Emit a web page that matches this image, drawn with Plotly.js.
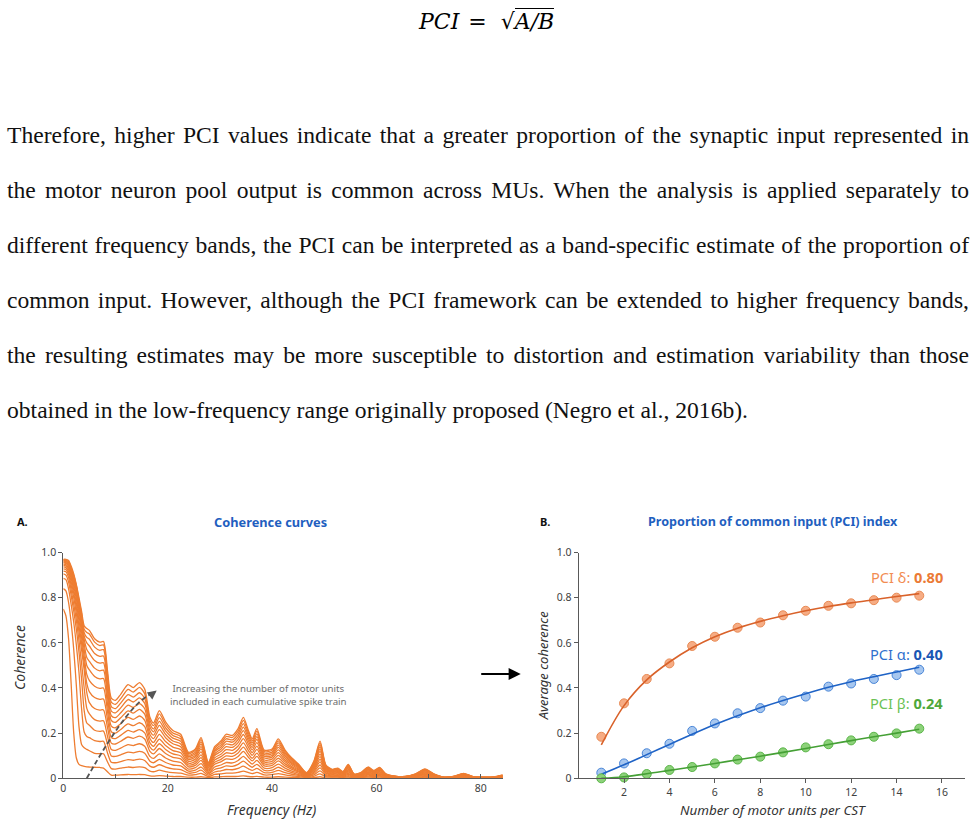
<!DOCTYPE html>
<html>
<head>
<meta charset="utf-8">
<script src="https://cdn.plot.ly/plotly-3.0.1.min.js"></script>
<style>
  html, body { margin: 0; padding: 0; background: #ffffff; }
  #page { position: relative; width: 979px; height: 824px; overflow: hidden; background: #fff; }
  #formula { position: absolute; left: 419px; top: 2px; height: 40px; line-height: 40px; font-size: 22px;
             font-family: 'DejaVu Serif', 'Liberation Serif', serif; white-space: nowrap; color: #000; }
  #para { position: absolute; left: 7px; top: 108px; width: 962px; font-family: 'Liberation Serif', 'Times New Roman', serif;
          font-size: 23.6px; line-height: 55px; color: #111; }
  #para .ln { text-align: justify; text-align-last: justify; }
  #para .last { text-align: left; text-align-last: left; }
  #chart { position: absolute; left: 0; top: 480px; width: 979px; height: 344px; }
</style>
</head>
<body>
<div id="page">
  <div id="formula"><i>PCI</i><span style="margin:0 14px 0 9px;">=</span><span>√</span><span style="border-top:1.4px solid #000;font-style:italic;padding-top:0px;">A/B</span></div>
  <div id="para">
    <div class="ln">Therefore, higher PCI values indicate that a greater proportion of the synaptic input represented in</div>
    <div class="ln">the motor neuron pool output is common across MUs. When the analysis is applied separately to</div>
    <div class="ln">different frequency bands, the PCI can be interpreted as a band-specific estimate of the proportion of</div>
    <div class="ln">common input. However, although the PCI framework can be extended to higher frequency bands,</div>
    <div class="ln">the resulting estimates may be more susceptible to distortion and estimation variability than those</div>
    <div class="ln last">obtained in the low-frequency range originally proposed (Negro et al., 2016b).</div>
  </div>
  <div id="chart"></div>
</div>
<script>
// ---------- Panel A: coherence curves (frequency grid + one curve per CST size) ----------
const freqHz = [0,0.5,1,1.5,2,2.5,3,3.5,4,4.5,5,6,7,7.7,8.5,9.2,10,11,12.4,13.4,14.6,15.6,16.6,17.3,18.4,19.6,21,22.5,24,25.3,26.4,27.8,29,30.2,31.2,32.4,33.5,34.5,35.5,36.2,37.1,38.5,40,41.2,42.5,43.8,45,46.6,48,49.2,50.3,51.5,52.6,53.6,54.6,55.7,57,58.4,59.5,60.6,61.8,63.5,65.5,67.5,69.3,71,73,75,76.7,78.5,80.5,82.5,84.2];

const coh1 = [0.75,0.72,0.62,0.42,0.20,0.09,0.062,0.056,0.053,0.051,0.05,0.049,0.048,0.045,0.028,
0.014,0.014,0.015,0.017,0.016,0.017,0.016,0.011,0.010,0.012,0.010,0.008,0.008,0.005,0.005,0.007,0.003,0.006,0.007,0.008,0.008,0.009,0.011,0.008,0.007,0.009,0.005,0.005,0.007,0.005,0.004,0.003,0.001,0.003,0.007,0.002,0.002,0.002,0.001,0.002,0.001,0.001,0.002,0.001,0.002,0.001,0,0,0.001,0.002,0.001,0,0,0.001,0,0,0,0.001];
const coh2 = [0.84,0.83,0.78,0.69,0.57,0.41,0.23,0.15,0.135,0.128,0.122,0.111,0.109,0.109,0.071,
0.043,0.041,0.045,0.050,0.048,0.051,0.047,0.032,0.029,0.036,0.030,0.025,0.023,0.014,0.016,0.022,0.008,0.017,0.020,0.023,0.023,0.026,0.032,0.025,0.021,0.026,0.015,0.016,0.021,0.015,0.011,0.008,0.003,0.009,0.020,0.007,0.005,0.005,0.004,0.007,0.002,0.003,0.006,0.004,0.006,0.002,0.001,0.001,0.002,0.005,0.002,0.001,0.001,0.003,0.001,0.001,0.001,0.002];
const coh3 = [0.885,0.88,0.84,0.77,0.69,0.59,0.47,0.31,0.205,0.185,0.18,0.167,0.163,0.164,0.110,
0.071,0.069,0.074,0.083,0.080,0.085,0.079,0.054,0.049,0.060,0.050,0.042,0.039,0.023,0.026,0.036,0.014,0.028,0.033,0.039,0.038,0.044,0.054,0.042,0.035,0.044,0.025,0.026,0.035,0.025,0.018,0.013,0.005,0.015,0.033,0.012,0.008,0.009,0.006,0.012,0.004,0.005,0.010,0.007,0.010,0.004,0.002,0.002,0.004,0.008,0.004,0.001,0.002,0.004,0.002,0.001,0.001,0.003];
const coh4 = [0.905,0.90,0.87,0.81,0.74,0.66,0.56,0.44,0.30,0.245,0.235,0.213,0.208,0.209,0.147,
0.099,0.097,0.104,0.116,0.113,0.119,0.111,0.076,0.069,0.084,0.070,0.059,0.055,0.032,0.036,0.050,0.020,0.039,0.046,0.055,0.053,0.062,0.076,0.059,0.049,0.062,0.035,0.036,0.049,0.035,0.025,0.018,0.007,0.021,0.046,0.017,0.011,0.013,0.008,0.017,0.006,0.007,0.014,0.010,0.013,0.006,0.003,0.002,0.006,0.012,0.006,0.001,0.003,0.006,0.002,0.001,0.002,0.004];
const coh5 = [0.918,0.915,0.89,0.835,0.77,0.70,0.61,0.51,0.40,0.31,0.285,0.260,0.253,0.255,0.183,
0.128,0.124,0.134,0.149,0.145,0.153,0.142,0.097,0.088,0.108,0.090,0.076,0.070,0.041,0.047,0.065,0.025,0.050,0.059,0.070,0.068,0.079,0.097,0.076,0.063,0.079,0.045,0.047,0.063,0.045,0.032,0.023,0.009,0.027,0.059,0.022,0.014,0.016,0.011,0.022,0.007,0.009,0.018,0.013,0.017,0.007,0.004,0.003,0.007,0.015,0.007,0.002,0.004,0.008,0.003,0.002,0.002,0.005];
const coh6 = [0.928,0.925,0.905,0.855,0.80,0.73,0.65,0.57,0.48,0.38,0.335,0.309,0.302,0.303,0.221,
0.156,0.152,0.164,0.183,0.177,0.187,0.174,0.119,0.108,0.132,0.110,0.093,0.086,0.051,0.057,0.079,0.031,0.062,0.073,0.086,0.084,0.097,0.119,0.092,0.077,0.097,0.055,0.057,0.077,0.055,0.040,0.029,0.011,0.033,0.073,0.026,0.018,0.020,0.013,0.027,0.009,0.011,0.022,0.015,0.021,0.009,0.004,0.004,0.009,0.018,0.009,0.002,0.004,0.010,0.004,0.002,0.003,0.007];
const coh7 = [0.936,0.933,0.915,0.87,0.82,0.755,0.675,0.60,0.51,0.42,0.383,0.358,0.350,0.351,0.256,
0.181,0.176,0.190,0.212,0.205,0.216,0.201,0.138,0.125,0.153,0.128,0.108,0.099,0.059,0.066,0.092,0.036,0.071,0.084,0.099,0.097,0.112,0.138,0.107,0.089,0.112,0.064,0.066,0.089,0.064,0.046,0.033,0.013,0.038,0.084,0.031,0.020,0.023,0.015,0.032,0.010,0.013,0.026,0.018,0.024,0.010,0.005,0.004,0.010,0.021,0.010,0.003,0.005,0.011,0.004,0.003,0.003,0.008];
const coh8 = [0.943,0.94,0.925,0.885,0.835,0.775,0.70,0.625,0.54,0.46,0.433,0.408,0.398,0.400,0.291,
0.206,0.200,0.216,0.241,0.233,0.246,0.229,0.157,0.142,0.174,0.145,0.123,0.113,0.067,0.075,0.104,0.041,0.081,0.096,0.113,0.110,0.128,0.157,0.122,0.102,0.128,0.073,0.075,0.102,0.073,0.052,0.038,0.015,0.044,0.096,0.035,0.023,0.026,0.017,0.036,0.012,0.015,0.029,0.020,0.028,0.012,0.006,0.005,0.012,0.024,0.012,0.003,0.006,0.013,0.005,0.003,0.003,0.009];
const coh9 = [0.949,0.946,0.932,0.895,0.85,0.795,0.72,0.65,0.57,0.50,0.48,0.451,0.440,0.442,0.324,
0.231,0.224,0.242,0.270,0.261,0.276,0.257,0.176,0.159,0.195,0.163,0.138,0.127,0.075,0.085,0.117,0.046,0.091,0.107,0.127,0.124,0.143,0.176,0.137,0.114,0.143,0.081,0.085,0.114,0.081,0.059,0.042,0.016,0.049,0.107,0.039,0.026,0.029,0.020,0.040,0.013,0.016,0.033,0.023,0.031,0.013,0.007,0.005,0.013,0.027,0.013,0.003,0.007,0.014,0.005,0.003,0.004,0.010];
const coh10 = [0.954,0.952,0.94,0.905,0.862,0.81,0.74,0.67,0.595,0.535,0.518,0.488,0.476,0.479,0.355,
0.256,0.248,0.268,0.299,0.289,0.305,0.284,0.194,0.176,0.216,0.180,0.153,0.140,0.083,0.094,0.130,0.050,0.101,0.119,0.140,0.137,0.158,0.194,0.151,0.126,0.158,0.090,0.094,0.126,0.090,0.065,0.047,0.018,0.054,0.119,0.043,0.029,0.032,0.022,0.045,0.014,0.018,0.036,0.025,0.035,0.014,0.007,0.006,0.014,0.030,0.014,0.004,0.007,0.016,0.006,0.004,0.004,0.011];
const coh11 = [0.958,0.956,0.945,0.913,0.872,0.825,0.755,0.685,0.615,0.57,0.553,0.522,0.510,0.512,0.382,
0.277,0.269,0.290,0.324,0.314,0.331,0.308,0.211,0.191,0.234,0.195,0.165,0.152,0.090,0.101,0.140,0.055,0.109,0.129,0.152,0.148,0.172,0.211,0.164,0.137,0.172,0.098,0.101,0.137,0.098,0.070,0.051,0.020,0.059,0.129,0.047,0.031,0.035,0.023,0.048,0.016,0.020,0.039,0.027,0.037,0.016,0.008,0.006,0.016,0.033,0.016,0.004,0.008,0.017,0.006,0.004,0.005,0.012];
const coh12 = [0.962,0.96,0.95,0.92,0.882,0.838,0.77,0.70,0.63,0.60,0.586,0.553,0.540,0.542,0.408,
0.298,0.290,0.312,0.349,0.338,0.356,0.332,0.227,0.206,0.252,0.210,0.178,0.164,0.097,0.109,0.151,0.059,0.118,0.139,0.164,0.160,0.185,0.227,0.176,0.147,0.185,0.105,0.109,0.147,0.105,0.076,0.055,0.021,0.063,0.139,0.050,0.034,0.038,0.025,0.052,0.017,0.021,0.042,0.029,0.040,0.017,0.008,0.007,0.017,0.035,0.017,0.004,0.008,0.018,0.007,0.004,0.005,0.013];
const coh13 = [0.965,0.963,0.955,0.927,0.89,0.848,0.78,0.715,0.645,0.624,0.616,0.581,0.567,0.570,0.431,
0.318,0.309,0.333,0.371,0.360,0.379,0.354,0.242,0.219,0.269,0.224,0.190,0.175,0.103,0.116,0.161,0.063,0.125,0.148,0.175,0.170,0.197,0.242,0.188,0.157,0.197,0.112,0.116,0.157,0.112,0.081,0.058,0.022,0.067,0.148,0.054,0.036,0.040,0.027,0.055,0.018,0.022,0.045,0.031,0.043,0.018,0.009,0.007,0.018,0.038,0.018,0.004,0.009,0.020,0.007,0.004,0.005,0.013];
const coh14 = [0.968,0.966,0.96,0.933,0.898,0.853,0.79,0.73,0.66,0.646,0.639,0.603,0.588,0.591,0.452,
0.337,0.328,0.353,0.394,0.382,0.403,0.375,0.257,0.233,0.285,0.238,0.201,0.185,0.109,0.124,0.171,0.067,0.133,0.157,0.185,0.181,0.209,0.257,0.200,0.166,0.209,0.119,0.124,0.166,0.119,0.086,0.062,0.024,0.071,0.157,0.057,0.038,0.043,0.029,0.059,0.019,0.024,0.048,0.033,0.046,0.019,0.010,0.008,0.019,0.040,0.019,0.005,0.010,0.021,0.008,0.005,0.006,0.014];
const coh15 = [0.970,0.970,0.965,0.940,0.905,0.858,0.80,0.74,0.675,0.663,0.655,0.618,0.603,0.606,0.470,
0.355,0.345,0.372,0.415,0.402,0.424,0.395,0.270,0.245,0.300,0.250,0.212,0.195,0.115,0.130,0.180,0.070,0.140,0.165,0.195,0.190,0.220,0.270,0.210,0.175,0.220,0.125,0.130,0.175,0.125,0.090,0.065,0.025,0.075,0.165,0.060,0.040,0.045,0.030,0.062,0.020,0.025,0.050,0.035,0.048,0.020,0.010,0.008,0.020,0.042,0.020,0.005,0.010,0.022,0.008,0.005,0.006,0.015];

const coherenceCurves = [coh1,coh2,coh3,coh4,coh5,coh6,coh7,coh8,coh9,coh10,coh11,coh12,coh13,coh14,coh15];

const freqTickVals = [0,10,20,30,40,50,60,70,80];
const freqTickText = ['0','','20','','40','','60','','80'];
const cohTickVals = [0,0.2,0.4,0.6,0.8,1.0];
const cohTickText = ['0','0.2','0.4','0.6','0.8','1.0'];

// ---------- Panel B: average coherence vs number of MUs ----------
const nMU = [1,2,3,4,5,6,7,8,9,10,11,12,13,14,15];
const deltaAvg = [0.184,0.332,0.440,0.509,0.586,0.627,0.667,0.690,0.722,0.742,0.764,0.775,0.789,0.800,0.809];
const alphaAvg = [0.025,0.066,0.111,0.153,0.210,0.243,0.288,0.311,0.344,0.362,0.406,0.420,0.440,0.457,0.481];
const betaAvg  = [0.000,0.004,0.019,0.037,0.050,0.066,0.083,0.096,0.115,0.137,0.151,0.168,0.184,0.199,0.220];
const deltaFit = [0.148,0.322,0.436,0.515,0.578,0.627,0.665,0.695,0.720,0.742,0.761,0.777,0.791,0.805,0.818];
const alphaFit = [0.018,0.060,0.105,0.150,0.195,0.238,0.277,0.313,0.345,0.375,0.403,0.428,0.450,0.471,0.492];
const betaFit  = [0.000,0.007,0.020,0.035,0.050,0.066,0.082,0.098,0.115,0.132,0.150,0.167,0.184,0.200,0.217];
const muTickVals = [2,4,6,8,10,12,14,16];

const FONT = "'Noto Sans', 'Open Sans', Roboto, sans-serif";

const traces = [];
coherenceCurves.forEach(function (c) {
  traces.push({
    x: freqHz, y: c, type: 'scatter', mode: 'lines', xaxis: 'x', yaxis: 'y',
    line: { color: '#EE7D31', width: 1.3, shape: 'spline', smoothing: 0.7 },
    hoverinfo: 'skip', showlegend: false
  });
});

const bandSets = [
  { pts: deltaAvg, fit: deltaFit, fill: '#F6AC84', edge: '#E98B55', line: '#D9622A' },
  { pts: alphaAvg, fit: alphaFit, fill: '#A7C7EF', edge: '#4A86D8', line: '#1F63C6' },
  { pts: betaAvg,  fit: betaFit,  fill: '#8DD27A', edge: '#5AB548', line: '#45A035' }
];
bandSets.forEach(function (b) {
  traces.push({
    x: nMU, y: b.pts, type: 'scatter', mode: 'markers', xaxis: 'x2', yaxis: 'y2',
    marker: { size: 9, color: b.fill, line: { color: b.edge, width: 1 } },
    hoverinfo: 'skip', showlegend: false, cliponaxis: false
  });
  traces.push({
    x: nMU, y: b.fit, type: 'scatter', mode: 'lines', xaxis: 'x2', yaxis: 'y2',
    line: { color: b.line, width: 1.6, shape: 'spline', smoothing: 1 },
    hoverinfo: 'skip', showlegend: false, cliponaxis: false
  });
});

const axisCommon = {
  showline: true, linecolor: '#595959', linewidth: 1, showgrid: false, zeroline: false,
  tickcolor: '#595959', tickwidth: 1, tickfont: { family: FONT, size: 10.5, color: '#404040' }, fixedrange: true
};

const yDom = [0.1328, 0.7892];

const layout = {
  width: 979, height: 344,
  margin: { l: 0, r: 0, t: 0, b: 0 },
  paper_bgcolor: '#ffffff', plot_bgcolor: 'rgba(0,0,0,0)',
  font: { family: FONT, color: '#404040' },
  showlegend: false,
  xaxis: Object.assign({}, axisCommon, {
    domain: [0.06466, 0.51348], range: [0, 84.2], anchor: 'y',
    ticks: 'inside', ticklen: 4, tickvals: freqTickVals, ticktext: freqTickText
  }),
  yaxis: Object.assign({}, axisCommon, {
    domain: yDom, range: [0, 1], anchor: 'x',
    ticks: 'outside', ticklen: 4, tickvals: cohTickVals, ticktext: cohTickText
  }),
  xaxis2: Object.assign({}, axisCommon, {
    domain: [0.59101, 0.98539], range: [0, 17], anchor: 'y2',
    ticks: 'outside', ticklen: 4, tickvals: muTickVals
  }),
  yaxis2: Object.assign({}, axisCommon, {
    domain: yDom, range: [0, 1], anchor: 'x2',
    ticks: 'outside', ticklen: 4, tickvals: cohTickVals, ticktext: cohTickText
  }),
  shapes: [
    { type: 'path', xref: 'x', yref: 'y', path: 'M4.5,0 Q13,0.35 17.2,0.376',
      line: { color: '#555555', width: 1.8, dash: '5px,3px' }, layer: 'above' }
  ],
  annotations: [
    { xref: 'x', yref: 'y', x: 17.9, y: 0.389, ax: 17.0, ay: 0.373, axref: 'x', ayref: 'y',
      text: '', showarrow: true, arrowhead: 2, arrowsize: 1, arrowwidth: 1.8, arrowcolor: '#555555' },
    { xref: 'x', yref: 'y', x: 37.4, y: 0.369, xanchor: 'center', yanchor: 'middle', showarrow: false,
      text: 'Increasing the number of motor units<br>included in each cumulative spike train',
      font: { family: FONT, size: 9.7, color: '#6b6b6b' }, align: 'center' },
    { xref: 'paper', yref: 'paper', x: 0.0153, y: 0.8788, xanchor: 'left', yanchor: 'middle', showarrow: false,
      text: '<b>A.</b>', font: { family: FONT, size: 11, color: '#111111' } },
    { xref: 'paper', yref: 'paper', x: 0.2768, y: 0.8788, xanchor: 'center', yanchor: 'middle', showarrow: false,
      text: '<b>Coherence curves</b>', font: { family: FONT, size: 12.8, color: '#1F5FBF' } },
    { xref: 'paper', yref: 'paper', x: 0.5495, y: 0.8788, xanchor: 'left', yanchor: 'middle', showarrow: false,
      text: '<b>B.</b>', font: { family: FONT, size: 11, color: '#111111' } },
    { xref: 'paper', yref: 'paper', x: 0.7896, y: 0.8788, xanchor: 'center', yanchor: 'middle', showarrow: false,
      text: '<b>Proportion of common input (PCI) index</b>', font: { family: FONT, size: 12.6, color: '#1F5FBF' } },
    { xref: 'paper', yref: 'paper', x: 0.0204, y: 0.4855, xanchor: 'center', yanchor: 'middle', showarrow: false,
      textangle: -90, text: '<i>Coherence</i>', font: { family: FONT, size: 14, color: '#333333' } },
    { xref: 'paper', yref: 'paper', x: 0.2778, y: 0.0407, xanchor: 'center', yanchor: 'middle', showarrow: false,
      text: '<i>Frequency (Hz)</i>', font: { family: FONT, size: 13.8, color: '#333333' } },
    { xref: 'paper', yref: 'paper', x: 0.555, y: 0.4622, xanchor: 'center', yanchor: 'middle', showarrow: false,
      textangle: -90, text: '<i>Average coherence</i>', font: { family: FONT, size: 13, color: '#333333' } },
    { xref: 'paper', yref: 'paper', x: 0.7899, y: 0.0407, xanchor: 'center', yanchor: 'middle', showarrow: false,
      text: '<i>Number of motor units per CST</i>', font: { family: FONT, size: 13.4, color: '#333333' } },
    { xref: 'paper', yref: 'paper', x: 0.5319, y: 0.436, ax: -41, ay: 0,
      text: '', showarrow: true, arrowhead: 2, arrowsize: 1.1, arrowwidth: 2.2, arrowcolor: '#000000' },
    { xref: 'x2', yref: 'y2', x: 16.13, y: 0.89, xanchor: 'right', yanchor: 'middle', showarrow: false,
      text: '<span style="color:#F28C52">PCI δ: </span><b style="color:#EB7A35">0.80</b>', font: { family: FONT, size: 14.6 } },
    { xref: 'x2', yref: 'y2', x: 16.13, y: 0.55, xanchor: 'right', yanchor: 'middle', showarrow: false,
      text: '<span style="color:#2F6FCE">PCI α: </span><b style="color:#1A56B4">0.40</b>', font: { family: FONT, size: 14.6 } },
    { xref: 'x2', yref: 'y2', x: 16.13, y: 0.332, xanchor: 'right', yanchor: 'middle', showarrow: false,
      text: '<span style="color:#6BC255">PCI β: </span><b style="color:#4EA83A">0.24</b>', font: { family: FONT, size: 14.6 } }
  ]
};

Plotly.newPlot('chart', traces, layout, { displayModeBar: false, staticPlot: true });
</script>
</body>
</html>
